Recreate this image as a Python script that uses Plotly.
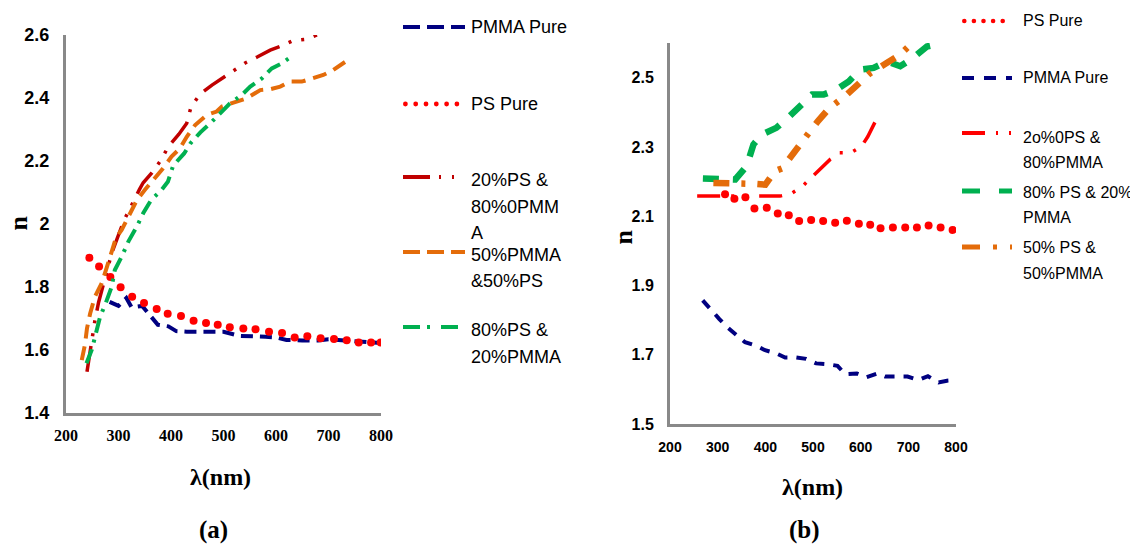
import plotly.graph_objects as go

# ---------------- data: panel (a) ----------------
a_pmma_x = [283, 300, 315, 325, 345, 360, 375, 395, 410, 430, 460, 500, 530, 560, 580, 600, 620, 650, 680, 700, 730, 760, 800]
a_pmma_y = [1.753, 1.740, 1.765, 1.735, 1.740, 1.710, 1.680, 1.675, 1.660, 1.658, 1.658, 1.658, 1.645, 1.645, 1.642, 1.640, 1.632, 1.630, 1.630, 1.634, 1.630, 1.628, 1.622]

a_ps_x = [244.5, 263, 284.5, 304, 326, 348.6, 372.7, 393.7, 419, 443, 466.7, 489, 512, 537.8, 561, 586.7, 611.5, 635.6, 659.7, 685, 710.5, 734.7, 757.5, 781, 799.4]
a_ps_y = [1.893, 1.865, 1.832, 1.799, 1.769, 1.749, 1.730, 1.715, 1.708, 1.693, 1.686, 1.680, 1.672, 1.668, 1.666, 1.658, 1.654, 1.640, 1.644, 1.637, 1.635, 1.631, 1.624, 1.624, 1.624]

a_20ps_x = [240, 249, 255, 262, 271, 287, 310, 323, 340, 347, 363, 381, 395, 415, 430, 438, 455, 478, 500, 519, 542, 565, 589, 610, 632, 657, 678]
a_20ps_y = [1.531, 1.637, 1.693, 1.751, 1.806, 1.907, 2.010, 2.055, 2.110, 2.131, 2.161, 2.203, 2.246, 2.285, 2.320, 2.371, 2.412, 2.441, 2.465, 2.486, 2.512, 2.531, 2.552, 2.565, 2.582, 2.586, 2.600]

a_50ps_x = [230, 236, 240, 246, 255, 268, 278, 287, 295, 306, 322, 335, 350, 366, 385, 401, 417, 430, 446, 468, 487, 497, 525, 544, 570, 589, 608, 627, 649, 668, 690, 709, 732]
a_50ps_y = [1.568, 1.616, 1.669, 1.716, 1.769, 1.812, 1.864, 1.912, 1.955, 1.981, 2.034, 2.076, 2.108, 2.140, 2.177, 2.214, 2.240, 2.277, 2.314, 2.346, 2.357, 2.373, 2.388, 2.399, 2.425, 2.428, 2.436, 2.452, 2.452, 2.462, 2.473, 2.489, 2.515]

a_80ps_x = [239, 249, 257, 265, 276, 287, 293, 306, 319, 335, 347, 362, 382, 394, 404, 425, 437, 456, 478, 494, 511, 535, 551, 573, 592, 611, 633]
a_80ps_y = [1.558, 1.600, 1.653, 1.706, 1.750, 1.801, 1.854, 1.896, 1.945, 1.992, 2.034, 2.076, 2.108, 2.134, 2.185, 2.224, 2.256, 2.291, 2.325, 2.351, 2.381, 2.410, 2.436, 2.462, 2.494, 2.510, 2.536]

# ---------------- data: panel (b) ----------------
b_ps_x = [315.5, 335.1, 358.2, 377.1, 403, 426.1, 449.2, 470.9, 496.1, 521.3, 546.5, 571, 596.2, 620, 641.7, 667.6, 693.5, 718, 742.5, 767.7, 792.9]
b_ps_y = [2.163, 2.150, 2.155, 2.122, 2.124, 2.108, 2.103, 2.086, 2.089, 2.086, 2.081, 2.087, 2.078, 2.075, 2.065, 2.067, 2.067, 2.067, 2.073, 2.067, 2.060]

b_pmma_x = [268.6, 284, 303.6, 320.4, 340, 357.5, 380.6, 399.5, 422.6, 441.5, 464.6, 485.6, 506.6, 529, 551.4, 567.5, 592, 611.6, 635.4, 651.5, 676, 698.4, 721.5, 741.1, 763.5, 781, 802]
b_pmma_y = [1.857, 1.832, 1.803, 1.779, 1.755, 1.736, 1.726, 1.713, 1.704, 1.692, 1.692, 1.688, 1.675, 1.673, 1.668, 1.644, 1.646, 1.635, 1.646, 1.637, 1.637, 1.637, 1.627, 1.638, 1.620, 1.625, 1.627]

b_20ps_x = [257, 280, 306, 330, 355, 382, 405, 431, 454, 477, 496, 515, 536, 556, 579, 602, 615, 631]
b_20ps_y = [2.158, 2.158, 2.158, 2.156, 2.157, 2.158, 2.158, 2.158, 2.165, 2.185, 2.211, 2.235, 2.264, 2.283, 2.283, 2.302, 2.330, 2.374]

b_80ps_x = [269, 285, 302, 320, 337, 361, 375, 393, 410, 423, 449, 475, 498, 522, 549, 575, 599, 627, 655, 683, 711, 739, 771]
b_80ps_y = [2.209, 2.209, 2.209, 2.207, 2.206, 2.245, 2.307, 2.336, 2.345, 2.355, 2.386, 2.422, 2.451, 2.451, 2.465, 2.489, 2.523, 2.528, 2.547, 2.533, 2.558, 2.590, 2.600]

b_50ps_x = [291, 310, 326, 345, 363, 380, 400, 420, 435, 461, 480, 491, 510, 535, 566, 592, 620, 652, 682, 708]
b_50ps_y = [2.196, 2.196, 2.196, 2.196, 2.196, 2.193, 2.191, 2.230, 2.238, 2.288, 2.326, 2.340, 2.374, 2.413, 2.445, 2.480, 2.513, 2.540, 2.566, 2.600]

x_ticks = [200, 300, 400, 500, 600, 700, 800]
a_y_ticks = [1.4, 1.6, 1.8, 2.0, 2.2, 2.4, 2.6]
a_y_labels = ["1.4", "1.6", "1.8", "2", "2.2", "2.4", "2.6"]
b_y_ticks = [1.5, 1.7, 1.9, 2.1, 2.3, 2.5]
b_y_labels = ["1.5", "1.7", "1.9", "2.1", "2.3", "2.5"]

a_names = [["PMMA Pure"], ["PS Pure"], ["20%PS &", "80%0PMM", "A"], ["50%PMMA", "&50%PS"], ["80%PS &", "20%PMMA"]]
b_names = [["PS Pure"], ["PMMA Pure"], ["2o%0PS &", "80%PMMA"], ["80% PS & 20%", "PMMA"], ["50% PS &", "50%PMMA"]]

# ---------------- styles ----------------
NAVY = "#000080"
RED = "#FF0000"
DRED = "#C00000"
ORANGE = "#E46C0A"
GREEN = "#00B050"
AXIS = "#898989"

W, H = 1130, 546
def px(x):
    return x / W
def py(y):
    return 1 - y / H

SANS = "Liberation Sans, Arial, sans-serif"
SERIF = "Liberation Serif, Times New Roman, serif"

fig = go.Figure()

def line_trace(x, y, color, width, dash, xa, ya):
    fig.add_trace(go.Scatter(x=x, y=y, mode="lines", xaxis=xa, yaxis=ya, showlegend=False,
                             line=dict(color=color, width=width, dash=dash)))

def dot_trace(x, y, color, size, xa, ya):
    fig.add_trace(go.Scatter(x=x, y=y, mode="markers", xaxis=xa, yaxis=ya, showlegend=False,
                             marker=dict(color=color, size=size, line=dict(width=0))))

A_STY = [
    ("line", NAVY, 4, "12px,7px"),
    ("dot", RED, 8, None),
    ("line", DRED, 3.5, "26px,10px,3px,10px,3px,10px"),
    ("line", ORANGE, 4, "14px,8px"),
    ("line", GREEN, 4, "15px,7px,3px,7px"),
]
B_STY = [
    ("dot", RED, 8, None),
    ("line", NAVY, 4, "10px,9px"),
    ("line", RED, 3.5, "23px,11px,3px,11px,3px,11px"),
    ("line", GREEN, 6.5, "16px,14px"),
    ("line", ORANGE, 6.5, "16px,12px,4px,12px"),
]
A_LEG = [
    ("line", NAVY, 4, "17px,7px"),
    ("dot", RED, 4.8, None),
    ("line", DRED, 4, "27px,9px,2px,11px,2px,11px"),
    ("line", ORANGE, 4, "17px,7px"),
    ("line", GREEN, 4, "17px,7px,3px,11px"),
]
B_LEG = [
    ("dot", RED, 4.6, None),
    ("line", NAVY, 4, "12px,10px"),
    ("line", RED, 4, "23px,11px,2px,11px,2px,11px"),
    ("line", GREEN, 5, "18px,19px"),
    ("line", ORANGE, 5, "18px,13px,4px,13px"),
]

a_data = [(a_pmma_x, a_pmma_y), (a_ps_x, a_ps_y), (a_20ps_x, a_20ps_y), (a_50ps_x, a_50ps_y), (a_80ps_x, a_80ps_y)]
b_data = [(b_ps_x, b_ps_y), (b_pmma_x, b_pmma_y), (b_20ps_x, b_20ps_y), (b_80ps_x, b_80ps_y), (b_50ps_x, b_50ps_y)]

for (x, y), (kind, c, w, d) in zip(a_data, A_STY):
    if kind == "dot":
        dot_trace(x, y, c, w, "x", "y")
    else:
        line_trace(x, y, c, w, d, "x", "y")
for (x, y), (kind, c, w, d) in zip(b_data, B_STY):
    if kind == "dot":
        dot_trace(x, y, c, w, "x2", "y2")
    else:
        line_trace(x, y, c, w, d, "x2", "y2")

shapes = []
annotations = []

def legend_block(styles, names, sym_x0, sym_x1, text_x, sym_ys, first_line_ys, line_gap, fsize, dotstep):
    for (kind, c, w, d), lines, sy, ty in zip(styles, names, sym_ys, first_line_ys):
        if kind == "dot":
            r = w / 2
            xx = sym_x0 + r
            while xx <= sym_x1:
                shapes.append(dict(type="circle", xref="paper", yref="paper",
                                   x0=px(xx - r), x1=px(xx + r), y0=py(sy + r), y1=py(sy - r),
                                   fillcolor=c, line=dict(width=0)))
                xx += dotstep
        else:
            shapes.append(dict(type="line", xref="paper", yref="paper",
                               x0=px(sym_x0), x1=px(sym_x1), y0=py(sy), y1=py(sy),
                               line=dict(color=c, width=w, dash=d)))
        for i, t in enumerate(lines):
            annotations.append(dict(text=t, xref="paper", yref="paper", x=px(text_x), y=py(ty + i * line_gap),
                                    xanchor="left", yanchor="middle", showarrow=False, align="left",
                                    font=dict(family=SANS, size=fsize, color="#000000")))

legend_block(A_LEG, a_names, 403, 465, 469,
             [27, 104, 177, 252, 327], [27, 104, 180, 255, 330], 26.5, 18, 10.3)
legend_block(B_LEG, b_names, 962, 1012, 1021,
             [21, 78, 133, 191, 247], [21, 78, 137, 192, 248], 25.5, 16, 9.6)

# axis titles and panel labels
bold_serif = lambda s: dict(family=SERIF, size=s, weight="bold", color="#000")
annotations += [
    dict(text="n", xref="paper", yref="paper", x=px(17.5), y=py(223), textangle=-90, showarrow=False,
         xanchor="center", yanchor="middle", font=bold_serif(26)),
    dict(text="n", xref="paper", yref="paper", x=px(622.5), y=py(237), textangle=-90, showarrow=False,
         xanchor="center", yanchor="middle", font=bold_serif(26)),
    dict(text="λ(nm)", xref="paper", yref="paper", x=px(220), y=py(477), showarrow=False,
         xanchor="center", yanchor="middle", font=bold_serif(24)),
    dict(text="λ(nm)", xref="paper", yref="paper", x=px(812), y=py(487), showarrow=False,
         xanchor="center", yanchor="middle", font=bold_serif(24)),
    dict(text="(a)", xref="paper", yref="paper", x=px(213), y=py(530), showarrow=False,
         xanchor="center", yanchor="middle", font=bold_serif(25)),
    dict(text="(b)", xref="paper", yref="paper", x=px(804), y=py(530), showarrow=False,
         xanchor="center", yanchor="middle", font=bold_serif(25)),
]

common_axis = dict(showline=True, linecolor=AXIS, linewidth=3, showgrid=False, zeroline=False,
                   ticks="", mirror=False, automargin=False)

fig.update_layout(
    width=W, height=H,
    margin=dict(l=0, r=0, t=0, b=0, pad=0),
    paper_bgcolor="white", plot_bgcolor="white",
    showlegend=False,
    xaxis=dict(domain=[px(66), px(381)], range=[200, 800], anchor="y", tickvals=x_ticks,
               ticklabelstandoff=6, tickfont=bold_serif(16), **common_axis),
    yaxis=dict(domain=[py(413), py(35)], range=[1.4, 2.6], anchor="x", tickvals=a_y_ticks, ticktext=a_y_labels,
               ticklabelstandoff=10,
               tickfont=dict(family=SANS, size=18, weight="bold", color="#000"), **common_axis),
    xaxis2=dict(domain=[px(670), px(956)], range=[200, 800], anchor="y2", tickvals=x_ticks,
                ticklabelstandoff=8,
                tickfont=dict(family=SANS, size=14, weight="bold", color="#000"), **common_axis),
    yaxis2=dict(domain=[py(424), py(43)], range=[1.5, 2.6], anchor="x2", tickvals=b_y_ticks, ticktext=b_y_labels,
                ticklabelstandoff=10,
                tickfont=dict(family=SANS, size=16, weight="bold", color="#000"), **common_axis),
    shapes=shapes,
    annotations=annotations,
)

fig.write_html("out.html", config={"displayModeBar": False},
               post_script="document.body.style.margin='0px';")
